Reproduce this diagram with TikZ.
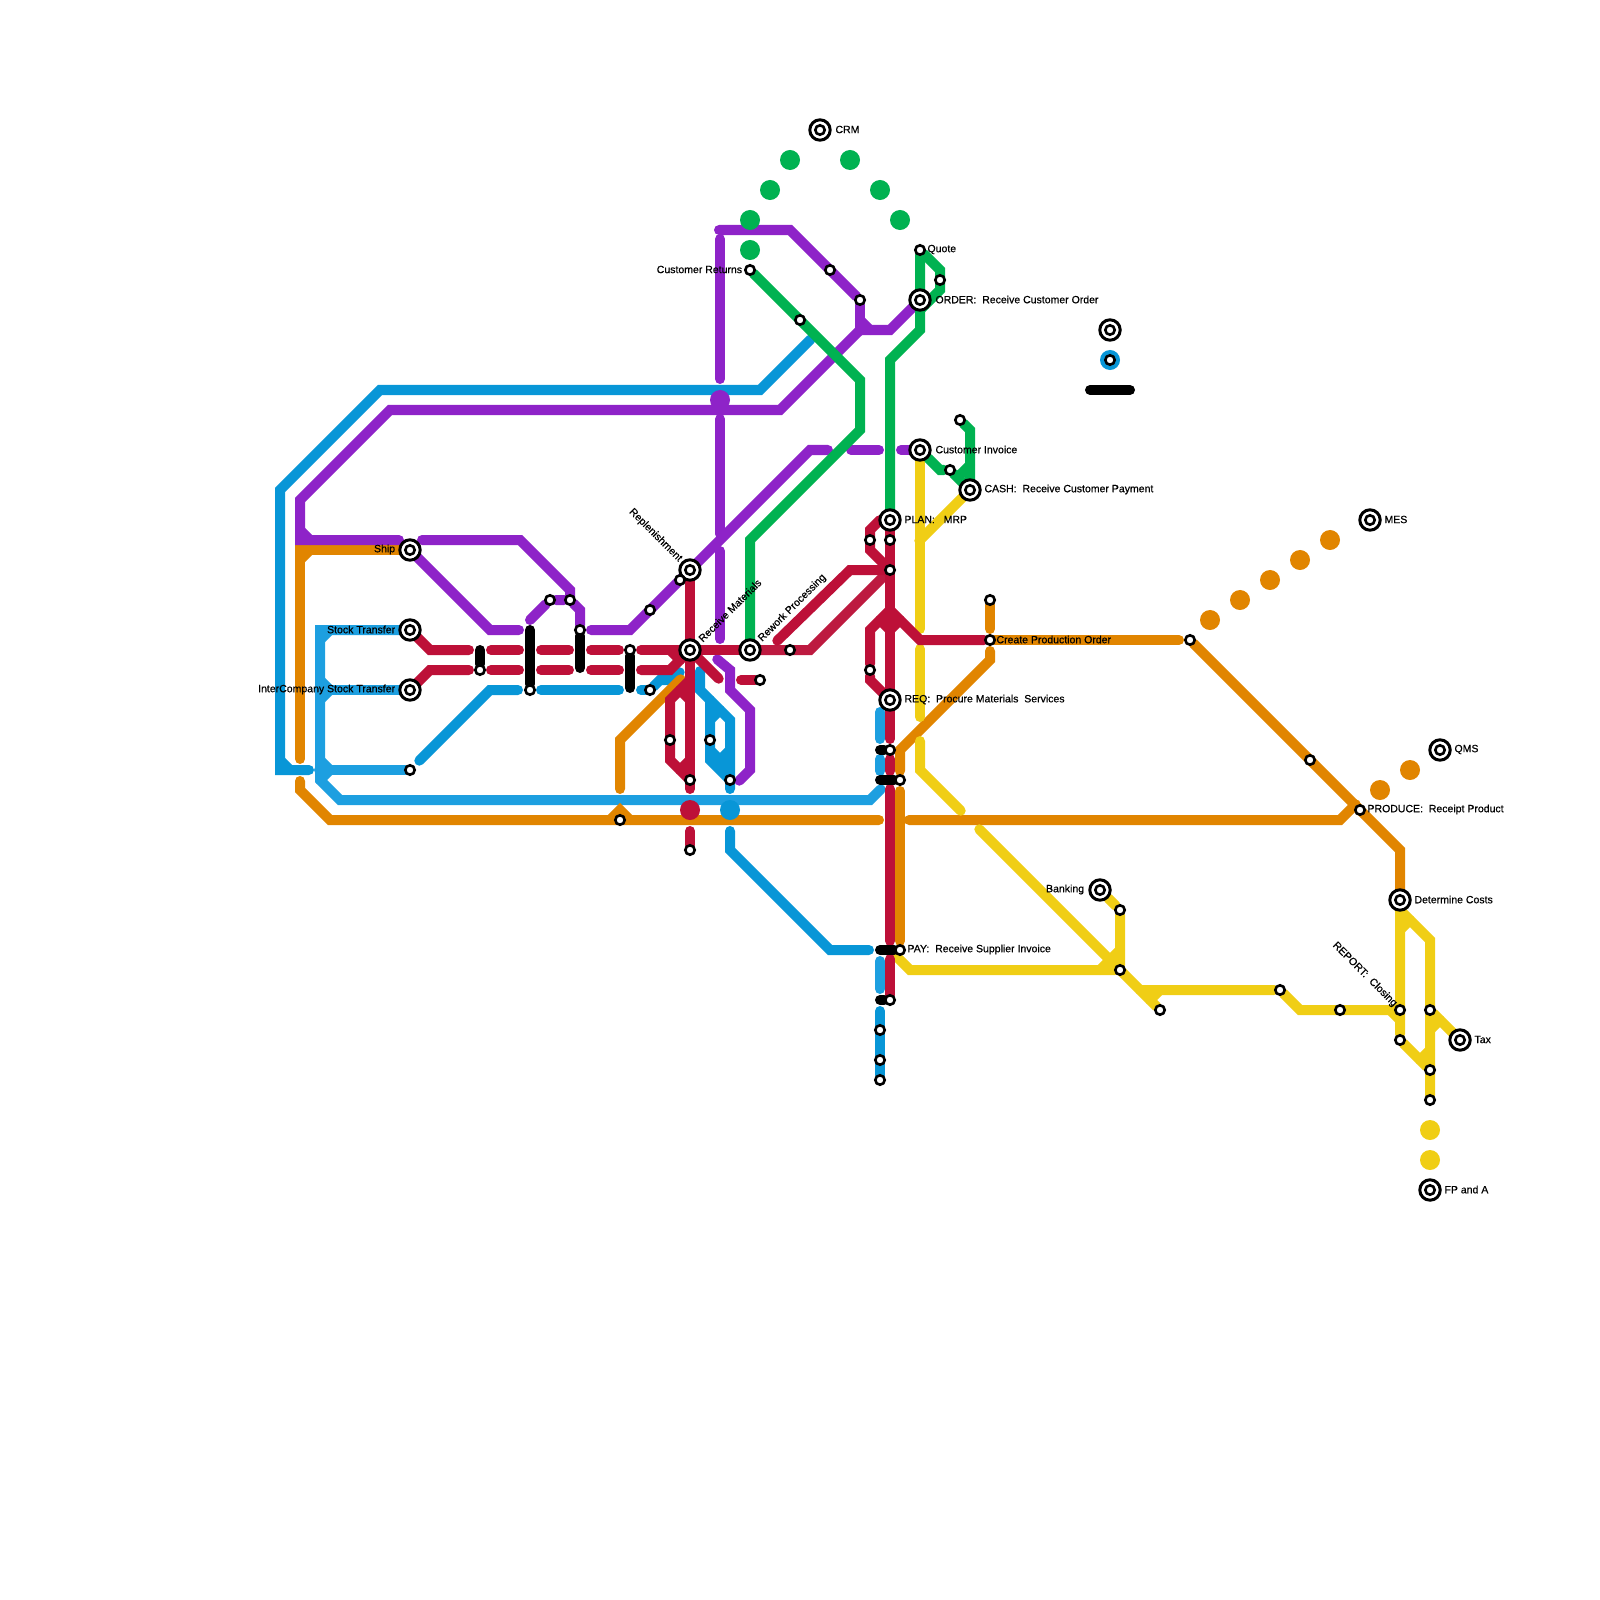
\documentclass[tikz,border=0pt]{standalone}
\usepackage{fontspec}
\setmainfont{Liberation Sans}[RawFeature={embolden=0.5}]
\usetikzlibrary{backgrounds}
\definecolor{cbluemain}{HTML}{0896D7}
\definecolor{cbluelight}{HTML}{1D9FE0}
\definecolor{credmain}{HTML}{BD1038}
\definecolor{credlight}{HTML}{BD1A40}
\definecolor{corange}{HTML}{E18500}
\definecolor{cyellow}{HTML}{F0CE15}
\definecolor{cgreen}{HTML}{00B251}
\definecolor{cpurple}{HTML}{8E23C8}

\begin{document}
\begin{tikzpicture}[
    x=0.01cm, y=-0.01cm,
    every node/.style={font=\fontsize{2.99}{3.5}\selectfont},
    route/.style={line width=0.1cm, line cap=round, line join=miter,
        shorten <=-0.01cm, shorten >=-0.01cm},
    joint/.style={shorten <=0cm, shorten >=0cm},
    bluemain/.style={route, draw=cbluemain},
    bluelight/.style={route, draw=cbluelight},
    redline/.style={route, draw=credmain},
    redlight/.style={route, draw=credlight},
    orangeline/.style={route, draw=corange},
    yellowline/.style={route, draw=cyellow},
    greenline/.style={route, draw=cgreen},
    purpleline/.style={route, draw=cpurple},
    blackbar/.style={route, draw=black},
    stn/.style={circle, draw=black, fill=white, line width=0.026cm, inner sep=0pt,
        minimum size=0.094cm},
    bigstn/.style={circle, draw=black, fill=white, line width=0.03cm, inner sep=0pt,
        minimum size=0.204cm,
        path picture={\draw[line width=0.026cm] (path picture bounding box.center) circle (0.047cm);}},
    disc/.style={circle, inner sep=0pt, minimum size=0.2cm},
    lblw/.style={anchor=west, inner sep=0pt, text=black, xshift=-0.012cm, yshift=-0.005cm},
    lble/.style={anchor=east, inner sep=0pt, text=black, xshift=0.008cm, yshift=-0.005cm},
]
\useasboundingbox (0,0) rectangle (1600,1600);

% ===== Discs =====
\node[disc, fill=cgreen] (ga) at (750,250) {};
\node[disc, fill=cgreen] (gb) at (750,220) {};
\node[disc, fill=cgreen] (gc) at (770,190) {};
\node[disc, fill=cgreen] (gd) at (790,160) {};
\node[disc, fill=cgreen] (ge) at (850,160) {};
\node[disc, fill=cgreen] (gf) at (880,190) {};
\node[disc, fill=cgreen] (gg) at (900,220) {};
\node[disc, fill=cpurple] (pa) at (720,400) {};
\node[disc, fill=credmain] (ra) at (690,810) {};
\node[disc, fill=cbluemain] (ba) at (730,810) {};
\node[disc, fill=cbluemain] (bb) at (1110,360) {};
\node[disc, fill=corange] (oa) at (1210,620) {};
\node[disc, fill=corange] (ob) at (1240,600) {};
\node[disc, fill=corange] (oc) at (1270,580) {};
\node[disc, fill=corange] (od) at (1300,560) {};
\node[disc, fill=corange] (oe) at (1330,540) {};
\node[disc, fill=corange] (of) at (1380,790) {};
\node[disc, fill=corange] (og) at (1410,770) {};
\node[disc, fill=cyellow] (ya) at (1430,1130) {};
\node[disc, fill=cyellow] (yb) at (1430,1160) {};

% ===== Large stations =====
\node[bigstn] (ship) at (410,550) {};
\node[bigstn] (stock) at (410,630) {};
\node[bigstn] (interco) at (410,690) {};
\node[bigstn] (replen) at (690,570) {};
\node[bigstn] (recv) at (690,650) {};
\node[bigstn] (rework) at (750,650) {};
\node[bigstn] (crm) at (820,130) {};
\node[bigstn] (order) at (920,300) {};
\node[bigstn] (custinv) at (920,450) {};
\node[bigstn] (cash) at (970,490) {};
\node[bigstn] (plan) at (890,520) {};
\node[bigstn] (req) at (890,700) {};
\node[bigstn] (bank) at (1100,890) {};
\node[bigstn] (determine) at (1400,900) {};
\node[bigstn] (tax) at (1460,1040) {};
\node[bigstn] (fpa) at (1430,1190) {};
\node[bigstn] (qms) at (1440,750) {};
\node[bigstn] (mes) at (1370,520) {};
\node[bigstn] (spare) at (1110,330) {};

% ===== Small stations =====
\node[stn] (store) at (410,770) {};
\node[stn] (ta) at (480,670) {};
\node[stn] (tb) at (530,690) {};
\node[stn] (tc) at (580,630) {};
\node[stn] (td) at (630,650) {};
\node[stn] (te) at (650,690) {};
\node[stn] (tf) at (550,600) {};
\node[stn] (tg) at (570,600) {};
\node[stn] (th) at (650,610) {};
\node[stn] (ti) at (680,580) {};
\node[stn] (tj) at (670,740) {};
\node[stn] (tk) at (710,740) {};
\node[stn] (tl) at (690,780) {};
\node[stn] (tm) at (730,780) {};
\node[stn] (tn) at (620,820) {};
\node[stn] (to) at (690,850) {};
\node[stn] (tp) at (760,680) {};
\node[stn] (tq) at (790,650) {};
\node[stn] (returns) at (750,270) {};
\node[stn] (tr) at (800,320) {};
\node[stn] (ts) at (830,270) {};
\node[stn] (tt) at (860,300) {};
\node[stn] (quote) at (920,250) {};
\node[stn] (tu) at (940,280) {};
\node[stn] (tv) at (960,420) {};
\node[stn] (tw) at (950,470) {};
\node[stn] (tx) at (890,540) {};
\node[stn] (ty) at (870,540) {};
\node[stn] (tz) at (890,570) {};
\node[stn] (ua) at (870,670) {};
\node[stn] (ub) at (990,600) {};
\node[stn] (prodorder) at (990,640) {};
\node[stn] (uc) at (890,750) {};
\node[stn] (ud) at (900,780) {};
\node[stn] (pay) at (900,950) {};
\node[stn] (ue) at (890,1000) {};
\node[stn] (uf) at (880,1030) {};
\node[stn] (ug) at (880,1060) {};
\node[stn] (uh) at (880,1080) {};
\node[stn] (ui) at (1120,910) {};
\node[stn] (uj) at (1120,970) {};
\node[stn] (uk) at (1160,1010) {};
\node[stn] (ul) at (1280,990) {};
\node[stn] (um) at (1340,1010) {};
\node[stn] (un) at (1190,640) {};
\node[stn] (uo) at (1310,760) {};
\node[stn] (produce) at (1360,810) {};
\node[stn] (report) at (1400,1010) {};
\node[stn] (up) at (1400,1040) {};
\node[stn] (uq) at (1430,1010) {};
\node[stn] (ur) at (1430,1070) {};
\node[stn] (us) at (1430,1100) {};
\node[stn] (ut) at (1110,360) {};

% ===== Free ends of the lines =====
\coordinate (bfa) at (308,770);
\coordinate (bfb) at (810,340);
\coordinate (bfc) at (420,760);
\coordinate (bfd) at (517,690);
\coordinate (bfe) at (542,690);
\coordinate (bff) at (618,690);
\coordinate (bfg) at (642,690);
\coordinate (bfh) at (679,673);
\coordinate (bfi) at (700,672);
\coordinate (bfj) at (730,788);
\coordinate (bfk) at (730,832);
\coordinate (bfl) at (868,950);
\coordinate (bfm) at (880,713);
\coordinate (bfn) at (880,738);
\coordinate (bfo) at (880,760);
\coordinate (bfp) at (880,770);
\coordinate (bfq) at (880,962);
\coordinate (bfr) at (880,988);
\coordinate (bfs) at (880,1012);
\coordinate (bft) at (880,790);
\coordinate (ofa) at (300,758);
\coordinate (ofb) at (300,782);
\coordinate (ofc) at (878,820);
\coordinate (ofd) at (620,788);
\coordinate (ofe) at (680,680);
\coordinate (off) at (910,820);
\coordinate (ofg) at (1355,805);
\coordinate (ofh) at (990,628);
\coordinate (ofi) at (990,652);
\coordinate (ofj) at (900,770);
\coordinate (ofk) at (900,792);
\coordinate (ofl) at (900,940);
\coordinate (ofm) at (1178,640);
\coordinate (yfa) at (920,628);
\coordinate (yfb) at (920,540);
\coordinate (yfc) at (920,650);
\coordinate (yfd) at (920,716);
\coordinate (yfe) at (920,742);
\coordinate (yff) at (960,810);
\coordinate (yfg) at (980,830);
\coordinate (yfh) at (1140,990);
\coordinate (yfi) at (895,955);
\coordinate (pfa) at (398,540);
\coordinate (pfb) at (422,540);
\coordinate (pfc) at (530,620);
\coordinate (pfd) at (518,630);
\coordinate (pfe) at (592,630);
\coordinate (pff) at (827,450);
\coordinate (pfg) at (852,450);
\coordinate (pfh) at (878,450);
\coordinate (pfi) at (902,450);
\coordinate (pfj) at (720,230);
\coordinate (pfk) at (720,240);
\coordinate (pfl) at (720,378);
\coordinate (pfm) at (720,420);
\coordinate (pfn) at (720,533);
\coordinate (pfo) at (720,552);
\coordinate (pfp) at (720,638);
\coordinate (pfq) at (718,660);
\coordinate (pfr) at (740,780);
\coordinate (rfa) at (468,650);
\coordinate (rfb) at (468,670);
\coordinate (rfc) at (492,650);
\coordinate (rfd) at (518,650);
\coordinate (rfe) at (492,670);
\coordinate (rff) at (518,670);
\coordinate (rfg) at (542,650);
\coordinate (rfh) at (568,650);
\coordinate (rfi) at (542,670);
\coordinate (rfj) at (568,670);
\coordinate (rfk) at (592,650);
\coordinate (rfl) at (618,650);
\coordinate (rfm) at (592,670);
\coordinate (rfn) at (618,670);
\coordinate (rfo) at (642,650);
\coordinate (rfp) at (642,670);
\coordinate (rfq) at (690,788);
\coordinate (rfr) at (690,832);
\coordinate (rfs) at (718,678);
\coordinate (rft) at (742,680);
\coordinate (rfu) at (778,640);
\coordinate (rfv) at (890,738);
\coordinate (rfw) at (890,760);
\coordinate (rfx) at (890,770);
\coordinate (rfy) at (890,790);
\coordinate (rfz) at (890,940);
\coordinate (rga) at (890,960);
\coordinate (kfa) at (480,650);
\coordinate (kfb) at (530,630);
\coordinate (kfc) at (580,668);
\coordinate (kfd) at (630,688);
\coordinate (kfe) at (880,750);
\coordinate (kff) at (880,780);
\coordinate (kfg) at (880,950);
\coordinate (kfh) at (880,1000);
\coordinate (kfi) at (1090,390);
\coordinate (kfj) at (1130,390);

% ===== Lines =====
\begin{scope}[on background layer]
% blue
\draw[bluemain] (bfa) -- (280,770) -- (280,490) -- (380,390) -- (760,390) -- (bfb);
\draw[bluemain, joint] (280,760) -- (290,770);
\draw[bluelight] (stock) -- (320,630) -- (320,780) -- (340,800) -- (870,800) -- (bft);
\draw[bluelight] (interco) -- (320,690);
\draw[bluelight] (store) -- (320,770);
\draw[bluelight, joint] (320,640) -- (330,630);
\draw[bluelight, joint] (320,680) -- (330,690) -- (320,700);
\draw[bluelight, joint] (320,760) -- (330,770) -- (320,780);
\draw[bluemain] (bfc) -- (490,690) -- (bfd);
\draw[bluemain] (bfe) -- (bff);
\draw[bluemain] (bfg) -- (te);
\draw[bluemain] (te) -- (660,680) -- (672,680) -- (bfh);
\draw[bluemain] (bfi) -- (700,690) -- (730,720) -- (bfj);
\draw[bluemain, joint] (710,700) -- (710,760) -- (730,780);
\draw[bluemain, joint] (710,750) -- (730,770);
\draw[bluemain, joint] (710,720) -- (720,710);
\draw[bluemain, joint] (720,760) -- (730,750);
\draw[bluemain] (bfk) -- (730,850) -- (830,950) -- (bfl);
\draw[bluelight] (bfm) -- (bfn);
\draw[bluelight] (bfo) -- (bfp);
\draw[bluelight] (bfq) -- (bfr);
\draw[bluemain] (bfs) -- (uh);
% orange
\draw[orangeline] (ofa) -- (300,550) -- (ship);
\draw[orangeline, joint] (300,560) -- (310,550);
\draw[orangeline] (ofb) -- (300,790) -- (330,820) -- (ofc);
\draw[orangeline, joint] (610,820) -- (620,810) -- (630,820);
\draw[orangeline] (ofd) -- (620,740) -- (ofe);
\draw[orangeline] (off) -- (1340,820) -- (ofg);
\draw[orangeline] (ub) -- (ofh);
\draw[orangeline] (ofi) -- (990,660) -- (900,750) -- (ofj);
\draw[orangeline] (ofk) -- (ofl);
\draw[orangeline] (prodorder) -- (ofm);
\draw[orangeline] (un) -- (1400,850) -- (determine);
% yellow
\draw[yellowline] (custinv) -- (yfa);
\draw[yellowline] (cash) -- (yfb);
\draw[yellowline] (yfc) -- (yfd);
\draw[yellowline] (yfe) -- (920,770) -- (yff);
\draw[yellowline] (yfg) -- (uk);
\draw[yellowline] (yfi) -- (910,970) -- (uj);
\draw[yellowline, joint] (1100,970) -- (1120,950);
\draw[yellowline] (bank) -- (ui) -- (uj);
\draw[yellowline] (yfh) -- (ul) -- (1300,1010) -- (report);
\draw[yellowline, joint] (1150,1000) -- (1160,990);
\draw[yellowline] (determine) -- (up) -- (ur);
\draw[yellowline] (1400,910) -- (1430,940) -- (us);
\draw[yellowline, joint] (1400,930) -- (1410,920);
\draw[yellowline, joint] (1420,1060) -- (1430,1050);
\draw[yellowline, joint] (1390,1010) -- (1400,1020);
\draw[yellowline] (uq) -- (tax);
\draw[yellowline, joint] (1430,1030) -- (1440,1020);
% purple
\draw[purpleline] (pfa) -- (300,540) -- (300,500) -- (390,410) -- (780,410) -- (860,330) -- (890,330) -- (order);
\draw[purpleline, joint] (300,530) -- (310,540);
\draw[purpleline, joint] (pfb) -- (520,540) -- (570,590) -- (570,600);
\draw[purpleline] (pfc) -- (tf) -- (tg) -- (580,610) -- (tc);
\draw[purpleline] (ship) -- (490,630) -- (pfd);
\draw[purpleline] (pfe) -- (630,630) -- (810,450) -- (pff);
\draw[purpleline] (pfg) -- (pfh);
\draw[purpleline] (pfi) -- (custinv);
\draw[purpleline] (pfj) -- (790,230) -- (tt);
\draw[purpleline] (tt) -- (860,330);
\draw[purpleline, joint] (860,320) -- (870,330);
\draw[purpleline] (pfk) -- (pfl);
\draw[purpleline] (pfm) -- (pfn);
\draw[purpleline] (pfo) -- (pfp);
\draw[purpleline] (pfq) -- (730,670) -- (730,690) -- (750,710) -- (750,770) -- (pfr);
% green
\draw[greenline] (returns) -- (860,380) -- (860,430) -- (750,540) -- (rework);
\draw[greenline] (quote) -- (920,330) -- (890,360) -- (plan);
\draw[greenline, joint] (quote) -- (940,270) -- (940,290) -- (920,310);
\draw[greenline] (custinv) -- (940,470) -- (tw) -- (cash);
\draw[greenline] (tv) -- (970,430) -- (cash);
\draw[greenline, joint] (970,465) -- (960,475);
% red
\draw[redline] (stock) -- (430,650) -- (rfa);
\draw[redline] (interco) -- (430,670) -- (rfb);
\draw[redline] (rfc) -- (rfd);
\draw[redline] (rfe) -- (rff);
\draw[redline] (rfg) -- (rfh);
\draw[redline] (rfi) -- (rfj);
\draw[redline] (rfk) -- (rfl);
\draw[redline] (rfm) -- (rfn);
\draw[redline] (rfo) -- (recv);
\draw[redline] (rfp) -- (670,670) -- (recv);
\draw[redline, joint] (670,650) -- (680,660);
\draw[redline] (replen) -- (rfq);
\draw[redline] (rfr) -- (to);
\draw[redline, joint] (690,680) -- (670,700) -- (670,760) -- (690,780);
\draw[redline, joint] (680,690) -- (690,700);
\draw[redline, joint] (680,770) -- (690,760);
\draw[redline] (recv) -- (rfs);
\draw[redline] (rft) -- (tp);
\draw[redline] (recv) -- (rework);
\draw[redlight] (rework) -- (810,650) -- (tz);
\draw[redline] (rfu) -- (850,570) -- (tz);
\draw[redline] (plan) -- (req);
\draw[redline, joint] (880,520) -- (870,530) -- (870,550) -- (890,570);
\draw[redline, joint] (890,610) -- (870,630) -- (ua);
\draw[redline, joint] (ua) -- (870,680) -- (890,700);
\draw[redline, joint] (890,610) -- (920,640) -- (prodorder);
\draw[redline, joint] (880,620) -- (890,630) -- (900,620);
\draw[redline] (req) -- (rfv);
\draw[redline] (rfw) -- (rfx);
\draw[redline] (rfy) -- (rfz);
\draw[redline] (rga) -- (ue);
% black
\draw[blackbar, joint] (kfa) -- (ta);
\draw[blackbar, joint] (kfb) -- (tb);
\draw[blackbar, joint] (tc) -- (kfc);
\draw[blackbar, joint] (td) -- (kfd);
\draw[blackbar, joint] (kfe) -- (uc);
\draw[blackbar, joint] (kff) -- (ud);
\draw[blackbar, joint] (kfg) -- (pay);
\draw[blackbar, joint] (kfh) -- (ue);
\draw[blackbar, joint] (kfi) -- (kfj);
\end{scope}

% ===== Labels =====
\node[lblw] (lblcrm) at (836,129) {CRM};
\node[lblw] (lblquote) at (928,249) {Quote};
\node[lblw] (lblorder) at (936,299) {ORDER:\ \ Receive Customer Order};
\node[lble] (lblreturns) at (742,269) {Customer Returns};
\node[lblw] (lblinv) at (936,449) {Customer Invoice};
\node[lblw] (lblcash) at (985,489) {CASH:\ \ Receive Customer Payment};
\node[lblw] (lblplan) at (905,519) {PLAN:\ \ \ MRP};
\node[lblw] (lblprod) at (997,639) {Create Production Order};
\node[lblw] (lblreq) at (905,699) {REQ:\ \ Procure Materials\ \ Services};
\node[lblw] (lblpay) at (908,949) {PAY:\ \ Receive Supplier Invoice};
\node[lble] (lblbank) at (1084,889) {Banking};
\node[lblw] (lblproduce) at (1368,809) {PRODUCE:\ \ Receipt Product};
\node[lblw] (lbldet) at (1415,899) {Determine Costs};
\node[lblw] (lbltax) at (1475,1039) {Tax};
\node[lblw] (lblfpa) at (1445,1189) {FP and A};
\node[lblw] (lblqms) at (1455,749) {QMS};
\node[lblw] (lblmes) at (1385,519) {MES};
\node[lble] (lblship) at (395,549) {Ship};
\node[lble] (lblstock) at (395,629) {Stock Transfer};
\node[lble] (lblinter) at (395,689) {InterCompany Stock Transfer};
\node[lble, rotate=-45] (lblreplen) at (680,560) {Replenishment};
\node[lblw, rotate=45] (lblrecv) at (701,640) {Receive Materials};
\node[lblw, rotate=45] (lblrework) at (761,640) {Rework Processing};
\node[lble, rotate=-45] (lblreport) at (1395,1005) {REPORT:\ \ Closing};

\end{tikzpicture}
\end{document}
